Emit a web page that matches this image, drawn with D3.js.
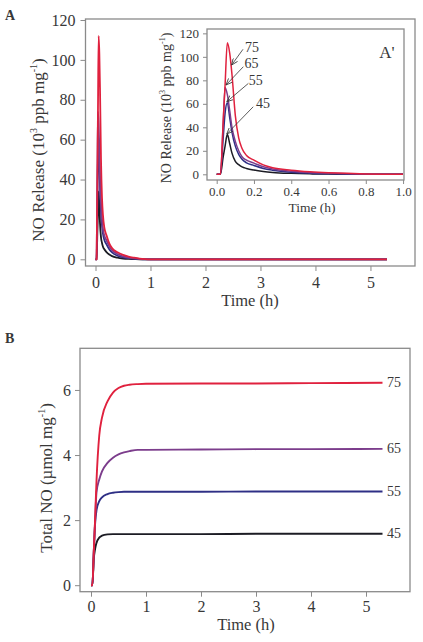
<!DOCTYPE html>
<html><head><meta charset="utf-8">
<script src="https://cdn.jsdelivr.net/npm/d3@7/dist/d3.min.js"></script>
<style>
body{margin:0;background:#fff}
text{font-family:"Liberation Serif","Times New Roman",serif;fill:#383838}
</style>
</head><body>
<svg id="c" width="423" height="642"></svg>
<script>
// ---------- Data ----------
const seriesNames = ["45", "55", "65", "75"];
const seriesColors = ["#1c1c24", "#2e2f85", "#7c3d8c", "#e0213e"];

// Panel A: NO release rate (10^3 ppb mg^-1) vs time (h)
const timeA = [0, 0.02, 0.035, 0.045, 0.057, 0.07, 0.082, 0.1, 0.118, 0.136, 0.16, 0.2, 0.25, 0.3, 0.4, 0.5, 0.6, 0.7, 0.8, 0.9, 1.0, 5.3];
const release45 = [0, 0, 15, 24, 34, 26, 18, 11, 8.2, 6.3, 5, 3.6, 2.4, 1.6, 0.8, 0.4, 0.2, 0.1, 0, 0, 0, 0];
const release55 = [0, 0, 31, 52, 61, 48, 36, 24, 17, 12.8, 9.8, 7.5, 5, 3.5, 1.8, 1.0, 0.55, 0.3, 0.1, 0, 0, 0];
const release65 = [0, 0, 44, 74, 68, 54, 40, 28, 20, 15, 12, 9.5, 6.5, 4.6, 2.6, 1.5, 0.85, 0.45, 0.2, 0.05, 0, 0];
const release75 = [0, 0, 45, 76, 112, 103, 85, 50, 31, 22, 16, 12, 8, 5.6, 3.5, 2.2, 1.35, 0.8, 0.35, 0.1, 0, 0];

// Panel B: cumulative NO (umol mg^-1) vs time (h)
const timeB = [0, 0.025, 0.05, 0.075, 0.1, 0.15, 0.2, 0.3, 0.4, 0.5, 0.6, 0.7, 0.85, 1.0, 2, 3, 4, 5.3];
const total45 = [0, 0, 0.8, 1.12, 1.3, 1.46, 1.52, 1.56, 1.57, 1.57, 1.57, 1.57, 1.57, 1.57, 1.57, 1.58, 1.58, 1.58];
const total55 = [0, 0, 1.0, 1.9, 2.3, 2.58, 2.7, 2.8, 2.84, 2.86, 2.87, 2.87, 2.87, 2.87, 2.87, 2.88, 2.88, 2.88];
const total65 = [0, 0, 1.0, 2.0, 2.85, 3.25, 3.5, 3.76, 3.92, 4.02, 4.08, 4.12, 4.16, 4.16, 4.17, 4.18, 4.18, 4.19];
const total75 = [0, 0, 1.0, 2.05, 3.2, 4.6, 5.15, 5.65, 5.92, 6.06, 6.13, 6.16, 6.18, 6.19, 6.2, 6.2, 6.21, 6.22];

// Tick values
const ticksMainX = [0, 1, 2, 3, 4, 5];
const ticksMainY = [0, 20, 40, 60, 80, 100, 120];
const ticksInsetX = [0, 0.2, 0.4, 0.6, 0.8, 1.0];
const ticksInsetY = [0, 20, 40, 60, 80, 100, 120];
const ticksBX = [0, 1, 2, 3, 4, 5];
const ticksBY = [0, 2, 4, 6];

// Inset annotations (inset data units)
const annoLabelT = [0.248, 0.21, 0.187, 0.19];
const annoLabelV = [60.4, 79.7, 94.5, 108];
const annoFromT = [0.196, 0.17, 0.143, 0.141];
const annoFromV = [57.5, 77.4, 91.6, 106.4];
const annoToT = [0.054, 0.054, 0.05, 0.080];
const annoToV = [34.3, 61.8, 76, 93];

const releaseSeries = [release45, release55, release65, release75];
const totalSeries = [total45, total55, total65, total75];

// ---------- Drawing ----------
const svg = d3.select("#c");
const frameColor = "#8a8a8a";
const textColor = "#383838";

svg.append("defs").append("marker")
  .attr("id", "arr").attr("viewBox", "0 0 7 6")
  .attr("refX", 6.5).attr("refY", 3)
  .attr("markerWidth", 7).attr("markerHeight", 6)
  .attr("markerUnits", "userSpaceOnUse").attr("orient", "auto")
  .append("path").attr("d", "M0,0.3 L6.5,3 L0,5.7").attr("fill", "none")
  .attr("stroke", "#333").attr("stroke-width", 0.8);

function panel(opts) {
  const g = svg.append("g");
  const x = d3.scaleLinear().domain(opts.xd).range(opts.xr);
  const y = d3.scaleLinear().domain(opts.yd).range(opts.yr);
  if (opts.bg) g.append("rect").attr("x", opts.xr[0]).attr("y", opts.yr[1])
      .attr("width", opts.xr[1] - opts.xr[0]).attr("height", opts.yr[0] - opts.yr[1]).attr("fill", "#fff");
  const clipId = "clip" + Math.round(opts.xr[0]) + Math.round(opts.yr[1]);
  g.append("clipPath").attr("id", clipId).append("rect")
    .attr("x", opts.xr[0]).attr("y", opts.yr[1] - 2)
    .attr("width", x(opts.clipX) - opts.xr[0]).attr("height", opts.yr[0] - opts.yr[1] + 2);
  const ax = g.append("g").attr("transform", `translate(0,${opts.yr[0]})`)
    .call(d3.axisBottom(x).tickValues(opts.tx).tickSize(opts.tickLen).tickPadding(opts.padX).tickFormat(opts.fx));
  const ay = g.append("g").attr("transform", `translate(${opts.xr[0]},0)`)
    .call(d3.axisLeft(y).tickValues(opts.ty).tickSize(opts.tickLen).tickPadding(opts.padY).tickFormat(d3.format("d")));
  [ax, ay].forEach(a => {
    a.select(".domain").remove();
    a.selectAll("line").attr("stroke", frameColor).attr("stroke-width", 1);
    a.selectAll("text").attr("font-size", opts.fs).attr("fill", textColor)
      .style("font-family", '"Liberation Serif","Times New Roman",serif');
  });
  g.append("rect").attr("x", opts.xr[0]).attr("y", opts.yr[1])
    .attr("width", opts.xr[1] - opts.xr[0]).attr("height", opts.yr[0] - opts.yr[1])
    .attr("fill", "none").attr("stroke", frameColor).attr("stroke-width", 1.3);
  const line = d3.line().x(d => x(d[0])).y(d => y(d[1])).curve(d3.curveMonotoneX);
  const lg = g.append("g").attr("clip-path", `url(#${clipId})`);
  opts.series.forEach((s, i) => {
    lg.append("path").datum(opts.time.map((t, k) => [t, s[k]]))
      .attr("d", line).attr("fill", "none").attr("stroke", seriesColors[i])
      .attr("stroke-width", opts.lw).attr("stroke-linejoin", "round");
  });
  return {g, x, y};
}

// Panel A main
const A = panel({xd: [-0.182, 5.81], xr: [85.5, 415], yd: [-3.36, 120.5], yr: [266, 19],
  tx: ticksMainX, ty: ticksMainY, fx: d3.format("d"), fs: 16, tickLen: 5, padX: 6, padY: 5,
  time: timeA, series: releaseSeries, lw: 1.8, clipX: 5.81});
svg.append("text").attr("x", 5).attr("y", 20).attr("font-size", 14).attr("font-weight", "bold").attr("fill", "#222").text("A");
svg.append("text").attr("x", 250).attr("y", 306).attr("text-anchor", "middle").attr("font-size", 16.5).text("Time (h)");
{
  const t = svg.append("text").attr("transform", "translate(44,150) rotate(-90)")
    .attr("text-anchor", "middle").attr("font-size", 17);
  t.append("tspan").text("NO Release (10");
  t.append("tspan").attr("font-size", 10).attr("dy", -7).text("3");
  t.append("tspan").attr("dy", 7).text(" ppb mg");
  t.append("tspan").attr("font-size", 10).attr("dy", -7).text("-1");
  t.append("tspan").attr("dy", 7).text(")");
}

// Inset A'
const I = panel({xd: [-0.052, 1.005], xr: [207, 404], yd: [-4.85, 123.7], yr: [180, 29], bg: true,
  tx: ticksInsetX, ty: ticksInsetY, fx: d3.format(".1f"), fs: 13, tickLen: 4, padX: 3, padY: 4,
  time: timeA, series: releaseSeries, lw: 1.5, clipX: 1.0});
svg.append("text").attr("x", 387).attr("y", 58).attr("text-anchor", "middle").attr("font-size", 17).text("A'");
svg.append("text").attr("x", 312).attr("y", 212).attr("text-anchor", "middle").attr("font-size", 13.5).text("Time (h)");
{
  const t = svg.append("text").attr("transform", "translate(171,108) rotate(-90)")
    .attr("text-anchor", "middle").attr("font-size", 14);
  t.append("tspan").text("NO Release (10");
  t.append("tspan").attr("font-size", 8).attr("dy", -6).text("3");
  t.append("tspan").attr("dy", 6).text(" ppb mg");
  t.append("tspan").attr("font-size", 8).attr("dy", -6).text("-1");
  t.append("tspan").attr("dy", 6).text(")");
}
seriesNames.forEach((n, i) => {
  svg.append("line")
    .attr("x1", I.x(annoFromT[i])).attr("y1", I.y(annoFromV[i]))
    .attr("x2", I.x(annoToT[i])).attr("y2", I.y(annoToV[i]))
    .attr("stroke", "#333").attr("stroke-width", 0.8).attr("marker-end", "url(#arr)");
  svg.append("text").attr("x", I.x(annoLabelT[i])).attr("y", I.y(annoLabelV[i]))
    .attr("text-anchor", "middle").attr("dominant-baseline", "central")
    .attr("font-size", 14).text(n);
});

// Panel B
const B = panel({xd: [-0.2, 5.8], xr: [80, 410], yd: [-0.2, 7.28], yr: [591.7, 348.3],
  tx: ticksBX, ty: ticksBY, fx: d3.format("d"), fs: 16, tickLen: 5, padX: 4, padY: 4,
  time: timeB, series: totalSeries, lw: 1.9, clipX: 5.8});
svg.append("text").attr("x", 5).attr("y", 343).attr("font-size", 14).attr("font-weight", "bold").attr("fill", "#222").text("B");
svg.append("text").attr("x", 246).attr("y", 630).attr("text-anchor", "middle").attr("font-size", 16.5).text("Time (h)");
{
  const t = svg.append("text").attr("transform", "translate(52,478) rotate(-90)")
    .attr("text-anchor", "middle").attr("font-size", 17);
  t.append("tspan").text("Total NO (\u00b5mol mg");
  t.append("tspan").attr("font-size", 10).attr("dy", -7).text("-1");
  t.append("tspan").attr("dy", 7).text(")");
}
seriesNames.forEach((n, i) => {
  const s = totalSeries[i];
  svg.append("text").attr("x", B.x(5.38)).attr("y", B.y(s[s.length - 1]))
    .attr("dominant-baseline", "central").attr("font-size", 14).text(n);
});
</script>
</body></html>
